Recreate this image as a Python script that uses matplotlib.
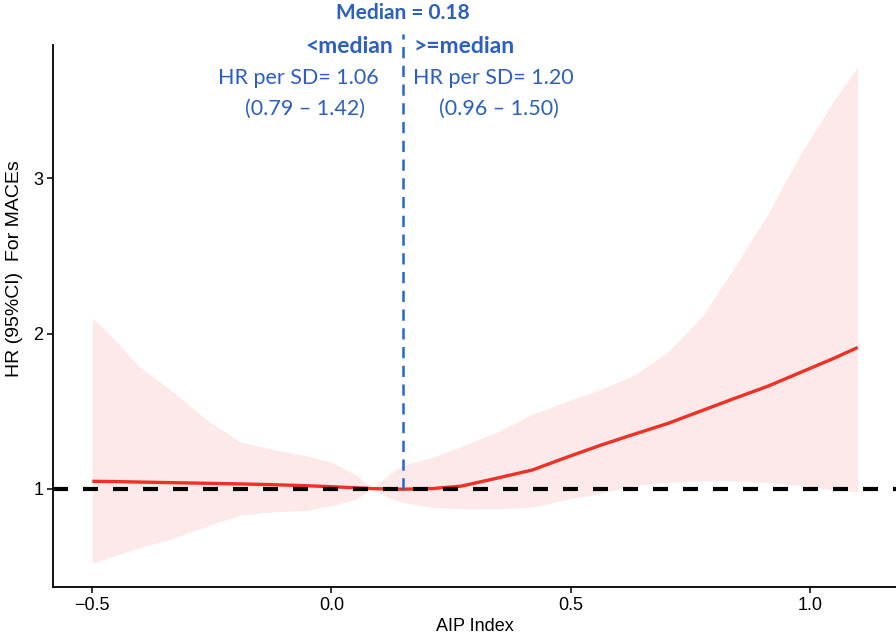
import numpy as np
import matplotlib
matplotlib.use("Agg")
import matplotlib.pyplot as plt

# AIP index grid and estimated HR with 95% CI
aip = [-0.5, -0.45, -0.4, -0.33, -0.26, -0.19, -0.12, -0.05, 0.0, 0.05, 0.086, 0.12, 0.15,
       0.21, 0.27, 0.35, 0.42, 0.49, 0.563, 0.632, 0.703, 0.772, 0.841, 0.912, 0.981, 1.05, 1.1]
hr = [1.047, 1.045, 1.042, 1.038, 1.034, 1.030, 1.025, 1.018, 1.012, 1.005, 1.0, 0.997, 0.996,
      1.0, 1.015, 1.07, 1.12, 1.20, 1.28, 1.35, 1.42, 1.50, 1.58, 1.66, 1.75, 1.84, 1.91]
upper = [2.10, 1.95, 1.78, 1.62, 1.44, 1.30, 1.25, 1.21, 1.17, 1.09, 1.0, 1.09, 1.15,
         1.20, 1.27, 1.37, 1.48, 1.56, 1.64, 1.73, 1.88, 2.10, 2.42, 2.77, 3.16, 3.50, 3.72]
lower = [0.52, 0.57, 0.62, 0.68, 0.76, 0.83, 0.85, 0.86, 0.89, 0.93, 1.0, 0.94, 0.91,
         0.88, 0.87, 0.87, 0.88, 0.93, 0.97, 1.02, 1.04, 1.05, 1.05, 1.04, 1.02, 0.99, 0.98]

median_x = 0.15
xticks = [-0.5, 0.0, 0.5, 1.0]
yticks = [1, 2, 3]

blue = "#2B5FC0"

fig = plt.figure(figsize=(8.96, 6.36), dpi=100)
ax = fig.add_axes([0.0592, 0.077, 0.9408, 0.852])

ax.fill_between(aip, lower, upper, color="#FDE9E9", linewidth=0)
ax.plot(aip, hr, color="#EE3124", lw=2.4, solid_capstyle="butt")
ax.axhline(1, color="black", lw=3, dashes=(3.6, 3.6))
ax.plot([median_x, median_x], [1, 3.93], color="#2566CF", lw=1.8,
        dashes=(4.5, 3), clip_on=False)

ax.set_xlim(-0.582, 1.18)
ax.set_ylim(0.365, 3.86)
ax.set_xticks(xticks)
ax.set_xticklabels([f"{v:.1f}".replace("-", "\u2212") for v in xticks])
ax.set_yticks(yticks)
for s in ["top", "right"]:
    ax.spines[s].set_visible(False)
for s in ["left", "bottom"]:
    ax.spines[s].set_linewidth(1.3)
ax.tick_params(length=4, width=1.1, labelsize=13, colors="black", pad=3)
for lab in ax.get_xticklabels() + ax.get_yticklabels():
    lab.set_fontfamily("Liberation Sans")

ax.set_xlabel("AIP Index", fontsize=13, family="Liberation Sans", labelpad=3)
ax.set_ylabel("HR (95%CI)  For MACEs", fontsize=14, family="Liberation Sans")
ax.yaxis.set_label_coords(-0.036, 0.587)

tk = dict(color=blue, family="Lato", clip_on=False, va="center")
ax.text(median_x, 4.07, "Median = 0.18", ha="center", fontsize=15, weight="bold", **tk)
ax.text(0.128, 3.85, "<median", ha="right", fontsize=16.5, weight="bold", **tk)
ax.text(0.171, 3.85, ">=median", ha="left", fontsize=16.5, weight="bold", **tk)
ax.text(0.098, 3.65, "HR per SD= 1.06", ha="right", fontsize=15.5, **tk)
ax.text(0.171, 3.65, "HR per SD= 1.20", ha="left", fontsize=15.5, **tk)
ax.text(-0.056, 3.45, "(0.79 \u2013 1.42)", ha="center", fontsize=15.5, **tk)
ax.text(0.35, 3.45, "(0.96 \u2013 1.50)", ha="center", fontsize=15.5, **tk)

fig.savefig("out.png", dpi=100)
